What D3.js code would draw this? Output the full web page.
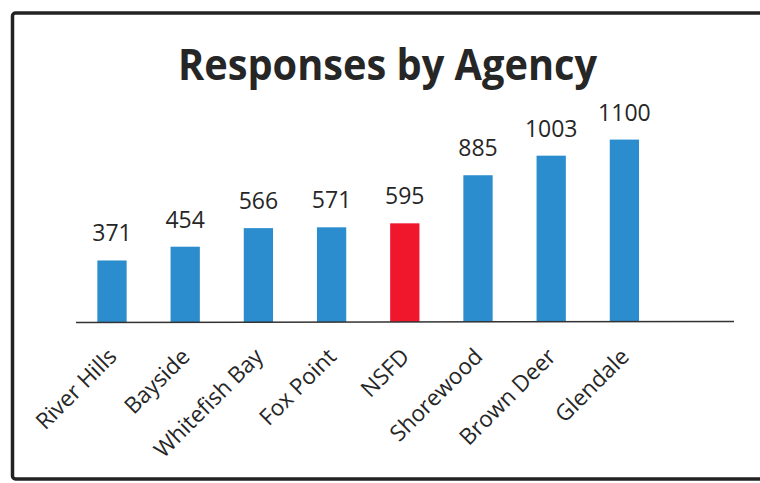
<!DOCTYPE html>
<html>
<head>
<meta charset="utf-8">
<script src="https://cdn.jsdelivr.net/npm/d3@7"></script>
<style>
  html, body { margin: 0; padding: 0; background: #fff; }
  svg { display: block; }
  text { font-family: "Open Sans", "Lato", sans-serif; }
</style>
</head>
<body>
<div id="chart"></div>
<script>
// chart values
const agencies = ["River Hills", "Bayside", "Whitefish Bay", "Fox Point", "NSFD", "Shorewood", "Brown Deer", "Glendale"];
const responses = [371, 454, 566, 571, 595, 885, 1003, 1100];
const highlighted = ["NSFD"];
const chartTitle = "Responses by Agency";

const width = 760, height = 483;
const blue = "#2b8dcd", red = "#f0172d", ink = "#262626";

const svg = d3.select("#chart").append("svg")
    .attr("width", width)
    .attr("height", height);

// frame of the pasted chart (right edge runs off the page)
svg.append("rect")
    .attr("x", 12.5)
    .attr("y", 13)
    .attr("width", 790)
    .attr("height", 466)
    .attr("fill", "#fff")
    .attr("stroke", "#222")
    .attr("stroke-width", 3.5)
    .attr("rx", 3);

const plot = { left: 75.4, right: 661, bottom: 322 };

const x = d3.scaleBand()
    .domain(agencies)
    .range([plot.left, plot.right])
    .paddingInner(0.6)
    .paddingOuter(0.3);

const y = d3.scaleLinear()
    .domain([0, 1200])
    .range([plot.bottom, plot.bottom - 199]);

const rows = agencies.map((a, i) => ({ name: a, value: responses[i] }));

// title, squeezed to the width of the original Calibri text
const title = svg.append("text")
    .attr("x", 387.5)
    .attr("y", 80)
    .attr("text-anchor", "middle")
    .attr("fill", ink)
    .attr("font-size", 43)
    .attr("font-weight", 700)
    .text(chartTitle);
title.attr("textLength", 419).attr("lengthAdjust", "spacingAndGlyphs");

// bars
svg.append("g")
    .selectAll("rect")
    .data(rows)
    .join("rect")
    .attr("x", d => x(d.name))
    .attr("y", d => y(d.value))
    .attr("width", x.bandwidth())
    .attr("height", d => y(0) - y(d.value))
    .attr("fill", d => highlighted.includes(d.name) ? red : blue);

// value labels
svg.append("g")
    .selectAll("text")
    .data(rows)
    .join("text")
    .attr("x", d => x(d.name) + x.bandwidth() / 2)
    .attr("y", d => y(d.value) - 19)
    .attr("text-anchor", "middle")
    .attr("fill", ink)
    .attr("font-size", 23)
    .text(d => d.value);

// baseline, runs past the last bar like the original
svg.append("line")
    .attr("x1", 76)
    .attr("x2", 734)
    .attr("y1", y(0) + 0.5)
    .attr("y2", y(0) - 0.5)
    .attr("stroke", "#333")
    .attr("stroke-width", 1.5);

// category labels rotated 45 degrees
svg.append("g")
    .selectAll("text")
    .data(agencies)
    .join("text")
    .attr("transform", d => `translate(${x(d) + x.bandwidth() / 2 + 6},${plot.bottom + 36}) rotate(-45)`)
    .attr("text-anchor", "end")
    .attr("fill", ink)
    .attr("font-size", 22.5)
    .text(d => d);
</script>
</body>
</html>
